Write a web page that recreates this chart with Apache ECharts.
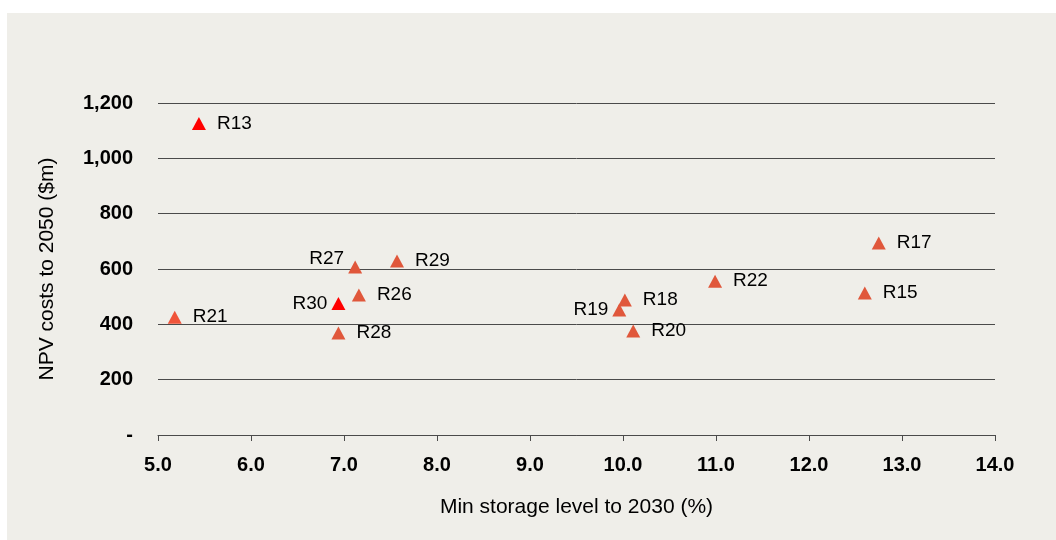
<!DOCTYPE html>
<html>
<head>
<meta charset="utf-8">
<script src="https://cdn.jsdelivr.net/npm/echarts@6/dist/echarts.min.js"></script>
<style>
  html, body { margin: 0; padding: 0; background: #ffffff; }
  #chart { width: 1056px; height: 540px; }
</style>
</head>
<body>
<div id="chart"></div>
<script>
// Scenario results: minimum storage level (x) vs NPV cost (y)
const scenarios  = ['R13', 'R21', 'R27', 'R29', 'R26', 'R30', 'R28', 'R19', 'R18', 'R20', 'R22', 'R15', 'R17'];
const minStorage = [5.44, 5.18, 7.12, 7.57, 7.16, 6.94, 6.94, 9.96, 10.02, 10.11, 10.99, 12.60, 12.75];
const npvCost    = [1126, 426, 607, 629, 506, 475, 369, 452, 488, 376, 556, 513, 694];
const yTicks     = [0, 200, 400, 600, 800, 1000, 1200];
const xTicks     = [5, 6, 7, 8, 9, 10, 11, 12, 13, 14];

const FONT = "'Liberation Sans', Arial, sans-serif";
const GRID_COLOR = '#4a4a4a';
const BASE_COLOR = '#E0573B';
const highlighted = new Set(['R13', 'R30']);
const labelLeft = new Set(['R27', 'R30', 'R19']);
const labelRaise = { R27: -8 };

function pointColor(name) {
  if (highlighted.has(name)) return '#FF0000';
  if (name === 'R21') return '#F0543A';
  return BASE_COLOR;
}

const points = scenarios.map((name, i) => {
  const left = labelLeft.has(name);
  return {
    name: name,
    value: [minStorage[i], npvCost[i]],
    itemStyle: { color: pointColor(name), opacity: 1 },
    label: {
      position: left ? 'left' : 'right',
      distance: left ? 4 : 11,
      offset: [0, labelRaise[name] || 0]
    }
  };
});

const chart = echarts.init(document.getElementById('chart'), null, { renderer: 'canvas' });

chart.setOption({
  backgroundColor: '#ffffff',
  animation: false,
  graphic: [{
    type: 'rect',
    z: -100,
    silent: true,
    shape: { x: 7, y: 13, width: 1049, height: 527 },
    style: { fill: '#EFEEE9' }
  }],
  grid: { left: 158, right: 61, top: 103, bottom: 105 },
  xAxis: {
    type: 'value',
    min: xTicks[0],
    max: xTicks[xTicks.length - 1],
    interval: 1,
    name: 'Min storage level to 2030 (%)',
    nameLocation: 'middle',
    nameGap: 62,
    nameTextStyle: { fontFamily: FONT, fontSize: 21, color: '#000' },
    axisLine: { show: true, onZero: false, lineStyle: { color: GRID_COLOR, width: 1 } },
    axisTick: { show: true, inside: false, length: 6, lineStyle: { color: GRID_COLOR, width: 1 } },
    axisLabel: {
      margin: 20,
      fontFamily: FONT, fontSize: 20, fontWeight: 'bold', color: '#000',
      formatter: v => v.toFixed(1)
    },
    splitLine: { show: false }
  },
  yAxis: {
    type: 'value',
    min: yTicks[0],
    max: yTicks[yTicks.length - 1],
    interval: 200,
    name: 'NPV costs to 2050 ($m)',
    nameLocation: 'middle',
    nameGap: 100,
    nameTextStyle: { fontFamily: FONT, fontSize: 21, color: '#000' },
    axisLine: { show: false },
    axisTick: { show: false },
    axisLabel: {
      margin: 25,
      fontFamily: FONT, fontSize: 20, fontWeight: 'bold', color: '#000',
      formatter: v => v === 0 ? '-' : v.toLocaleString('en-US')
    },
    splitLine: { show: true, lineStyle: { color: GRID_COLOR, width: 1 } }
  },
  series: [{
    type: 'scatter',
    symbol: 'triangle',
    symbolSize: [14, 13],
    itemStyle: { opacity: 1 },
    data: points,
    label: {
      show: true,
      formatter: p => p.name,
      fontFamily: FONT,
      fontSize: 19,
      color: '#000',
      opacity: 1
    },
    emphasis: { disabled: true }
  }]
});
</script>
</body>
</html>
